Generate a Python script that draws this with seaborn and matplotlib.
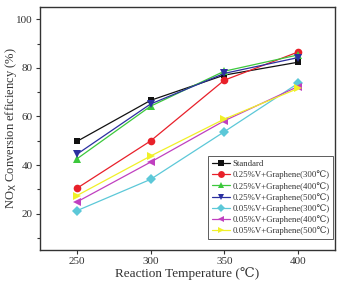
import matplotlib
matplotlib.use("Agg")
import matplotlib.pyplot as plt
import seaborn as sns
import pandas as pd
from matplotlib.ticker import MultipleLocator

temps = [250, 300, 350, 400]
labels = ["Standard",
          "0.25%V+Graphene(300℃)",
          "0.25%V+Graphene(400℃)",
          "0.25%V+Graphene(500℃)",
          "0.05%V+Graphene(300℃)",
          "0.05%V+Graphene(400℃)",
          "0.05%V+Graphene(500℃)"]
standard = [49.7, 66.6, 77.0, 82.3]
v025_300 = [30.4, 49.9, 74.9, 86.5]
v025_400 = [42.5, 64.2, 78.6, 85.3]
v025_500 = [44.4, 65.1, 77.7, 84.2]
v005_300 = [21.2, 34.1, 53.7, 73.6]
v005_400 = [24.8, 41.2, 58.2, 72.3]
v005_500 = [27.4, 43.7, 58.9, 71.5]
series = [standard, v025_300, v025_400, v025_500, v005_300, v005_400, v005_500]

colors = ["#111111", "#e8202a", "#3cc83c", "#2b2fa0", "#5cc8d8", "#c040c0", "#f0f028"]
markers = ["s", "o", "^", "v", "D", "<", ">"]
msizes = [5, 5.5, 5.5, 5.5, 5, 5.5, 5.5]

rows = []
for lab, vals in zip(labels, series):
    for t, v in zip(temps, vals):
        rows.append({"T": t, "eff": v, "sample": lab})
df = pd.DataFrame(rows)

sns.set_style("ticks")
plt.rcParams['font.family'] = ['Liberation Serif', 'DejaVu Serif']

fig = plt.figure(figsize=(3.41, 2.82), dpi=100)
ax = fig.add_axes([0.117, 0.113, 0.865, 0.862])

for lab, c, m, ms in zip(labels, colors, markers, msizes):
    sub = df[df["sample"] == lab]
    sns.lineplot(data=sub, x="T", y="eff", ax=ax, color=c, marker=m,
                 markersize=ms, markeredgewidth=0, linewidth=0.9, label=lab)

ax.set_xlim(225, 425)
ax.set_ylim(5, 105)
ax.set_xticks(temps)
ax.yaxis.set_major_locator(MultipleLocator(20))
ax.yaxis.set_minor_locator(MultipleLocator(10))
ax.set_yticks([20, 40, 60, 80, 100])
ax.tick_params(axis='both', which='both', direction='out', labelsize=8,
               colors='#333333', length=3, width=0.8, pad=2)
ax.tick_params(axis='y', which='minor', length=2)
for s in ax.spines.values():
    s.set_visible(True)
    s.set_color('#333333')
    s.set_linewidth(1.0)

ax.set_xlabel("Reaction Temperature (℃)", fontsize=9.5, color='#333333', labelpad=1)
ax.set_ylabel("NO$_\\mathrm{X}$ Conversion efficiency (%)", fontsize=9, color='#333333')
ax.yaxis.set_label_coords(-0.072, 0.5)

leg = ax.legend(loc='lower right', bbox_to_anchor=(0.995, 0.045), borderaxespad=0,
                fontsize=6.3, frameon=True, fancybox=False,
                edgecolor='#333333', handlelength=2.0, handletextpad=0.3,
                borderpad=0.45, labelspacing=0.28, markerscale=0.9)
leg.get_frame().set_linewidth(0.7)
for t in leg.get_texts():
    t.set_color('#333333')

fig.savefig("out.png", dpi=100)
